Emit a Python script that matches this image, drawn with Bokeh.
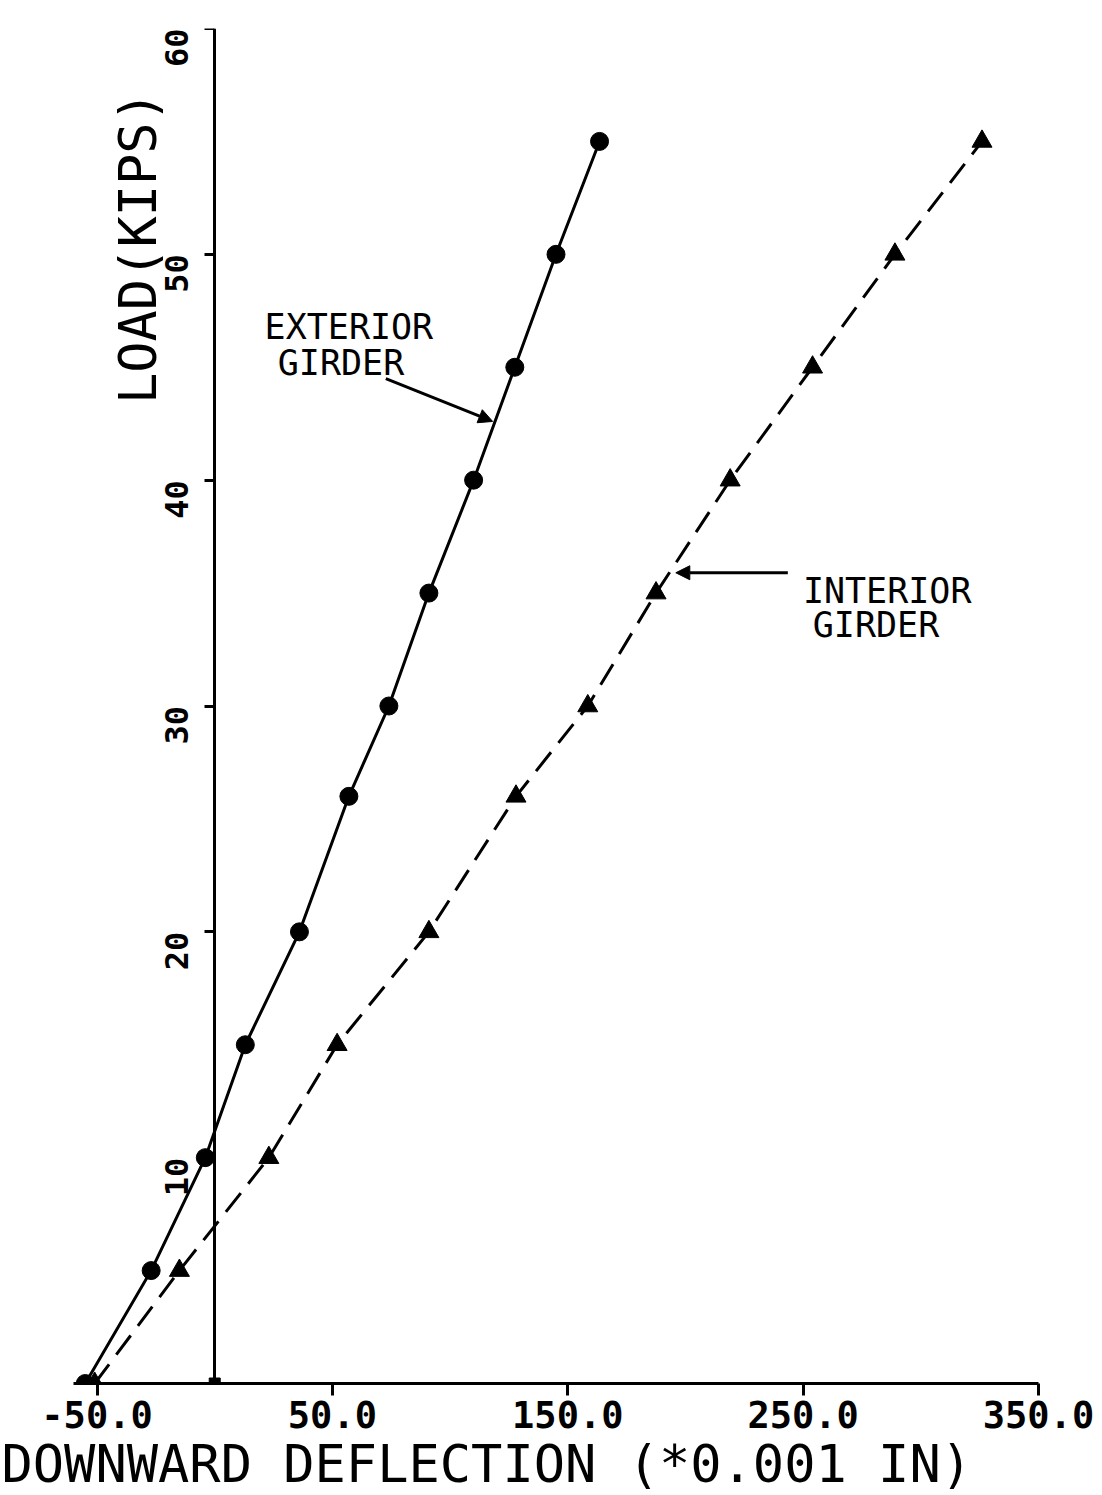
import math
from bokeh.plotting import figure
from bokeh.models import Range1d, FixedTicker, Label, Arrow, NormalHead, Title
from bokeh.embed import file_html
from bokeh.resources import INLINE

# ---- data ----
ext_x = [-55, -27, -4, 13, 36, 57, 74, 91, 110, 127.5, 145, 163.5]
ext_y = [0, 5, 10, 15, 20, 26, 30, 35, 40, 45, 50, 55]
int_x = [-51, -15, 23, 52, 91, 128, 158.5, 187.5, 219, 254, 289, 326]
int_y = [0, 5, 10, 15, 20, 26, 30, 35, 40, 45, 50, 55]
origin_x = [0]
origin_y = [0]

x_ticks = [-50, 50, 150, 250, 350]
x_tick_labels = ["-50.0", "50.0", "150.0", "250.0", "350.0"]
y_ticks = [10, 20, 30, 40, 50, 60]
y_tick_labels = ["10", "20", "30", "40", "50", "60"]

x_title = "DOWNWARD DEFLECTION (*0.001 IN)"
y_title = "LOAD(KIPS)"

MONO = "DejaVu Sans Mono"

p = figure(width=1100, height=1494,
           x_range=Range1d(-60, 350), y_range=Range1d(0, 60),
           output_backend="svg", toolbar_location=None,
           min_border_left=73, min_border_right=62,
           min_border_top=28, min_border_bottom=111,
           background_fill_color="white", border_fill_color="white")
p.outline_line_color = None
p.xgrid.grid_line_color = None
p.ygrid.grid_line_color = None

xa = p.xaxis[0]
xa.ticker = FixedTicker(ticks=x_ticks, minor_ticks=[])
xa.major_label_overrides = dict(zip(x_ticks, x_tick_labels))
xa.axis_line_width = 3
xa.axis_line_color = "black"
xa.major_tick_line_width = 3
xa.major_tick_line_color = "black"
xa.major_tick_out = 12
xa.major_tick_in = 0
xa.minor_tick_out = 0
xa.minor_tick_in = 0
xa.major_label_text_font = MONO
xa.major_label_text_font_style = "bold"
xa.major_label_text_font_size = "37px"
xa.major_label_text_color = "black"
xa.major_label_standoff = 5

ya = p.yaxis[0]
ya.fixed_location = 0
ya.ticker = FixedTicker(ticks=y_ticks, minor_ticks=[])
ya.major_label_overrides = dict(zip(y_ticks, y_tick_labels))
ya.major_label_orientation = math.pi / 2
ya.axis_line_width = 3
ya.axis_line_color = "black"
ya.major_tick_line_width = 3
ya.major_tick_line_color = "black"
ya.major_tick_out = 10
ya.major_tick_in = 0
ya.minor_tick_out = 0
ya.minor_tick_in = 0
ya.major_label_text_font = MONO
ya.major_label_text_font_style = "bold"
ya.major_label_text_font_size = "32px"
ya.major_label_text_color = "black"
ya.major_label_standoff = 28

# exterior girder: solid with circles
p.line(ext_x, ext_y, line_width=3, line_color="black")
p.scatter(ext_x, ext_y, marker="circle", size=18, color="black")

# interior girder: dashed with triangles
p.line(int_x, int_y, line_width=3, line_color="black", line_dash="24 12")
p.scatter(int_x, int_y, marker="triangle", size=20, color="black")

# point at origin
p.scatter(origin_x, origin_y, marker="square", size=11, color="black")

# x-axis title (below the tick labels, shifted left like the reference)
p.add_layout(Title(text=x_title, align="left", offset=-72, standoff=2,
                   text_font=MONO, text_font_size="52px",
                   text_font_style="normal", text_color="black"), "below")

# y-axis title
p.add_layout(Label(x=-32.5, y=50.3, text=y_title, text_font=MONO,
                   text_font_size="52px", text_color="black", angle=math.pi / 2,
                   text_align="center", text_baseline="middle"))

# annotations
p.add_layout(Label(x=21.2, y=46.8, text="EXTERIOR", text_font=MONO,
                   text_font_size="35px", text_color="black",
                   text_align="left", text_baseline="alphabetic"))
p.add_layout(Label(x=26.8, y=45.2, text="GIRDER", text_font=MONO,
                   text_font_size="35px", text_color="black",
                   text_align="left", text_baseline="alphabetic"))
p.add_layout(Label(x=249.9, y=35.1, text="INTERIOR", text_font=MONO,
                   text_font_size="35px", text_color="black",
                   text_align="left", text_baseline="alphabetic"))
p.add_layout(Label(x=254.1, y=33.6, text="GIRDER", text_font=MONO,
                   text_font_size="35px", text_color="black",
                   text_align="left", text_baseline="alphabetic"))

p.add_layout(Arrow(x_start=72.7, y_start=44.5, x_end=118.1, y_end=42.6,
                   line_width=3, line_color="black",
                   end=NormalHead(size=14, fill_color="black", line_color="black")))
p.add_layout(Arrow(x_start=243.5, y_start=35.9, x_end=195.9, y_end=35.9,
                   line_width=3, line_color="black",
                   end=NormalHead(size=14, fill_color="black", line_color="black")))

open("out.html", "w").write(file_html(p, INLINE))
